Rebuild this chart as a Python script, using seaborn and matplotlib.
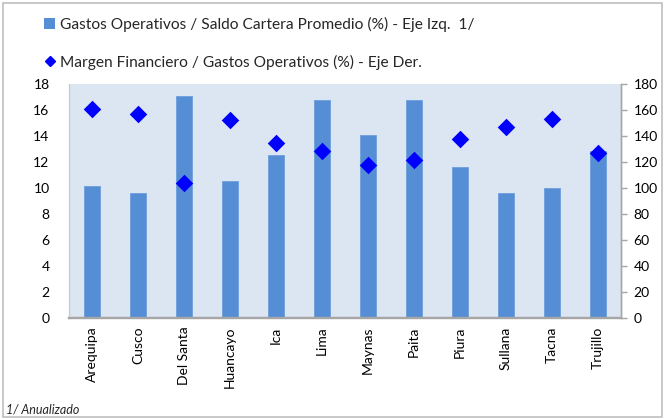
import matplotlib
matplotlib.use("Agg")
import matplotlib.pyplot as plt
from matplotlib.lines import Line2D
from matplotlib.patches import Patch, Rectangle
import seaborn as sns
import pandas as pd

agencias = ["Arequipa", "Cusco", "Del Santa", "Huancayo", "Ica", "Lima",
            "Maynas", "Paita", "Piura", "Sullana", "Tacna", "Trujillo"]
gastos_cartera = [10.15, 9.6, 17.08, 10.56, 12.5, 16.8,
                  14.1, 16.8, 11.6, 9.6, 10.0, 12.85]
margen_gastos = [161.0, 157.0, 103.8, 152.6, 134.9, 128.7,
                 118.0, 121.8, 137.4, 146.7, 152.8, 126.7]
left_ticks = list(range(0, 19, 2))
right_ticks = list(range(0, 181, 20))

lbl_bar = "Gastos Operativos / Saldo Cartera Promedio (%) - Eje Izq.  1/"
lbl_pt = "Margen Financiero / Gastos Operativos (%) - Eje Der."

df = pd.DataFrame({"agencia": agencias, "gastos": gastos_cartera, "margen": margen_gastos})

sns.set_theme(style="white")
plt.rcParams["font.family"] = ["Lato", "DejaVu Sans"]

bar_color = "#558ED5"
pt_color = "#0000FF"
axis_gray = "#A6A6A6"

fig = plt.figure(figsize=(6.65, 4.19), dpi=100)
fig.patches.append(Rectangle((0.004, 0.004), 0.992, 0.99, transform=fig.transFigure,
                             fill=False, edgecolor="#BFBFBF", linewidth=1.2))

ax = fig.add_axes([69 / 665, 1 - 318 / 419, (621 - 69) / 665, (318 - 84) / 419])
ax.set_facecolor("#DCE6F2")
sns.barplot(data=df, x="agencia", y="gastos", color=bar_color, width=0.34,
            saturation=1, ax=ax, edgecolor="#6C9EDC", linewidth=0.6)
ax.set_ylim(0, 18)
ax.set_yticks(left_ticks)
ax.set_xlim(-0.5, len(agencias) - 0.5)
ax.set_xlabel("")
ax.set_ylabel("")
ax.tick_params(axis="y", labelsize=10, length=0, pad=14, colors="black")
ax.tick_params(axis="x", labelsize=10, length=0, pad=6, rotation=90, colors="black")

ax2 = ax.twinx()
sns.scatterplot(data=df, x="agencia", y="margen", marker="D", s=80, color=pt_color,
                edgecolor=pt_color, linewidth=0, ax=ax2, legend=False, zorder=5)
ax2.set_ylim(0, 180)
ax2.set_yticks(right_ticks)
ax2.set_ylabel("")
ax2.tick_params(axis="y", labelsize=10, length=4, width=1, direction="out", pad=5,
                colors="black")
ax2.tick_params(axis="y", color=axis_gray)

for a in (ax, ax2):
    a.spines["top"].set_visible(False)
    a.spines["left"].set_color("#C8C8C8")
    a.spines["left"].set_linewidth(0.8)
    a.spines["right"].set_color(axis_gray)
    a.spines["right"].set_linewidth(1.0)
    a.spines["bottom"].set_color(axis_gray)
    a.spines["bottom"].set_linewidth(1.6)

handles = [Patch(facecolor=bar_color, edgecolor="none"),
           Line2D([], [], marker="D", linestyle="none", color=pt_color, markersize=5)]
fig.legend(handles, [lbl_bar, lbl_pt], loc="upper left", bbox_to_anchor=(38 / 665, 1 - 11 / 419),
           frameon=False, fontsize=11.2, handlelength=0.7, handletextpad=0.3,
           labelspacing=1.45, borderaxespad=0)

fig.text(6 / 665, 1 - 409 / 419, "1/ Anualizado", fontsize=9, style="italic",
         va="center", ha="left")

fig.savefig("out.png", dpi=100)
